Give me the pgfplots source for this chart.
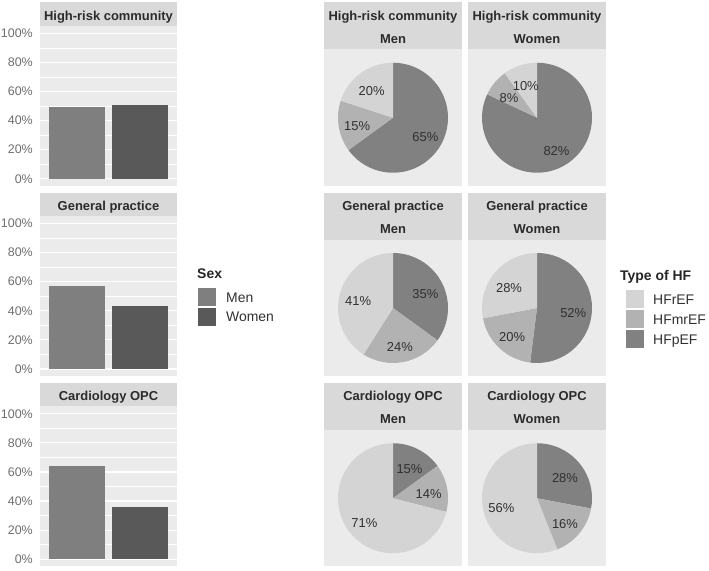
\documentclass[border=0pt]{standalone}
\usepackage{fontspec}
\setmainfont{Liberation Sans}
\usepackage{pgfplots}
\usepackage{pgfplotstable}
\pgfplotsset{compat=1.18}

\definecolor{panelbg}{HTML}{EBEBEB}
\definecolor{stripbg}{HTML}{D9D9D9}
\definecolor{stripfg}{HTML}{2B2B2B}
\definecolor{tickfg}{HTML}{6E6E6E}
\definecolor{menc}{HTML}{7F7F7F}
\definecolor{womenc}{HTML}{595959}
\definecolor{rEF}{HTML}{D4D4D4}
\definecolor{mrEF}{HTML}{B2B2B2}
\definecolor{pEF}{HTML}{818181}
\definecolor{labfg}{HTML}{303030}

% share of men / women per setting (%)
\pgfplotstableread{
sex x pct
Men 1 49
Women 2 51
}\barHR
\pgfplotstableread{
sex x pct
Men 1 57
Women 2 43
}\barGP
\pgfplotstableread{
sex x pct
Men 1 64
Women 2 36
}\barOPC

% type of HF (%), order: HFpEF, HFmrEF, HFrEF
\pgfplotstableread{
type pct
HFpEF 65
HFmrEF 15
HFrEF 20
}\pieHRM
\pgfplotstableread{
type pct
HFpEF 82
HFmrEF 8
HFrEF 10
}\pieHRW
\pgfplotstableread{
type pct
HFpEF 35
HFmrEF 24
HFrEF 41
}\pieGPM
\pgfplotstableread{
type pct
HFpEF 52
HFmrEF 20
HFrEF 28
}\pieGPW
\pgfplotstableread{
type pct
HFpEF 15
HFmrEF 14
HFrEF 71
}\pieOPCM
\pgfplotstableread{
type pct
HFpEF 28
HFmrEF 16
HFrEF 56
}\pieOPCW

\newcommand\getpie[1]{%
 \pgfplotstablegetelem{0}{pct}\of{#1}\edef\pa{\pgfplotsretval}%
 \pgfplotstablegetelem{1}{pct}\of{#1}\edef\pb{\pgfplotsretval}%
 \pgfplotstablegetelem{2}{pct}\of{#1}\edef\pc{\pgfplotsretval}%
 \pgfmathsetmacro\angA{3.6*\pa}%
 \pgfmathsetmacro\angB{3.6*(\pa+\pb)}%
 \pgfmathsetmacro\midA{\angA/2}%
 \pgfmathsetmacro\midB{(\angA+\angB)/2}%
 \pgfmathsetmacro\midC{(\angB+360)/2}%
}
\newcommand\drawpie{%
 \fill[pEF] (axis cs:0,0) -- (axis cs:0,1) arc[start angle=90, end angle={90-\angA}, radius=55bp] -- cycle;
 \fill[mrEF] (axis cs:0,0) -- (axis cs:{sin(\angA)},{cos(\angA)}) arc[start angle={90-\angA}, end angle={90-\angB}, radius=55bp] -- cycle;
 \fill[rEF] (axis cs:0,0) -- (axis cs:{sin(\angB)},{cos(\angB)}) arc[start angle={90-\angB}, end angle=-270, radius=55bp] -- cycle;
 \node[pielab] at (axis cs:{0.66*sin(\midA)},{0.66*cos(\midA)}) {\pa\%};
 \node[pielab] at (axis cs:{0.66*sin(\midB)},{0.66*cos(\midB)}) {\pb\%};
 \node[pielab] at (axis cs:{0.66*sin(\midC)},{0.66*cos(\midC)}) {\pc\%};
}

\newcommand\fsz{\fontsize{13}{15}\selectfont}
\newcommand\lsz{\fontsize{14}{16}\selectfont}

\pgfplotsset{
  barpanel/.style={
    scale only axis, width=137bp, height=160bp,
    anchor=north west,
    xmin=0.4, xmax=2.6, ymin=-5, ymax=105,
    axis background/.style={fill=panelbg},
    axis line style={draw=none},
    xtick=\empty,
    ytick={0,20,...,100}, minor ytick={10,30,...,90},
    ymajorgrids, yminorgrids,
    major grid style={white, line width=1.2bp},
    minor grid style={white, line width=0.6bp},
    major tick length=0pt, minor tick length=0pt,
    yticklabel={\pgfmathprintnumber{\tick}\%},
    /pgf/number format/assume math mode=true,
    yticklabel style={font=\fontsize{12.5}{14}\selectfont, text=tickfg, inner sep=0pt, xshift=-7bp},
    ybar, bar width=0.9,
  },
  piepanel/.style={
    scale only axis, width=138bp, height=136.5bp,
    anchor=north west,
    xmin=-1.254545, xmax=1.254545, ymin=-1.240909, ymax=1.240909,
    axis background/.style={fill=panelbg},
    axis line style={draw=none},
    xtick=\empty, ytick=\empty, clip=false,
  },
}
\tikzset{
  pielab/.style={font=\fsz, text=labfg, inner sep=0pt, yshift=-3bp},
  striptxt/.style={font=\fsz\bfseries, text=stripfg, anchor=base, inner sep=0pt},
  legtxt/.style={font=\lsz, text=labfg, anchor=base west, inner sep=0pt},
  legtitle/.style={font=\lsz\bfseries, text=black!85, anchor=base west, inner sep=0pt},
}

\begin{document}
\begin{tikzpicture}[x=1bp,y=1bp]
\path[use as bounding box] (0,0) rectangle (709,571);

% ---------------- bar panels ----------------
\fill[stripbg] (40,568.5) rectangle (177,545);
\node[striptxt] at (108.5,550.5) {High-risk community};
\begin{axis}[barpanel, at={(40bp,545bp)}]
\addplot[fill=menc, draw=none, bar shift=0pt] table[x=x, y=pct, skip coords between index={1}{2}] {\barHR};
\addplot[fill=womenc, draw=none, bar shift=0pt] table[x=x, y=pct, skip coords between index={0}{1}] {\barHR};
\end{axis}

\fill[stripbg] (40,378.25) rectangle (177,354.75);
\node[striptxt] at (108.5,360.25) {General practice};
\begin{axis}[barpanel, at={(40bp,354.75bp)}]
\addplot[fill=menc, draw=none, bar shift=0pt] table[x=x, y=pct, skip coords between index={1}{2}] {\barGP};
\addplot[fill=womenc, draw=none, bar shift=0pt] table[x=x, y=pct, skip coords between index={0}{1}] {\barGP};
\end{axis}

\fill[stripbg] (40,188) rectangle (177,164.5);
\node[striptxt] at (108.5,170) {Cardiology OPC};
\begin{axis}[barpanel, at={(40bp,164.5bp)}]
\addplot[fill=menc, draw=none, bar shift=0pt] table[x=x, y=pct, skip coords between index={1}{2}] {\barOPC};
\addplot[fill=womenc, draw=none, bar shift=0pt] table[x=x, y=pct, skip coords between index={0}{1}] {\barOPC};
\end{axis}

% Sex legend
\node[legtitle] at (197,292) {Sex};
\fill[menc] (198,282.5) rectangle (216,264.5);
\fill[womenc] (198,263) rectangle (216,245);
\node[legtxt] at (226,268.5) {Men};
\node[legtxt] at (226,249) {Women};

% ---------------- pie panels ----------------
% row 1
\fill[stripbg] (324,568.5) rectangle (462,521.5);
\node[striptxt] at (393,550.5) {High-risk community};
\node[striptxt] at (393,527.5) {Men};
\getpie{\pieHRM}
\begin{axis}[piepanel, at={(324bp,521.5bp)}]
\drawpie
\end{axis}

\fill[stripbg] (468,568.5) rectangle (606,521.5);
\node[striptxt] at (537,550.5) {High-risk community};
\node[striptxt] at (537,527.5) {Women};
\getpie{\pieHRW}
\begin{axis}[piepanel, at={(468bp,521.5bp)}]
\drawpie
\end{axis}

% row 2
\fill[stripbg] (324,378.25) rectangle (462,331.25);
\node[striptxt] at (393,360.25) {General practice};
\node[striptxt] at (393,337.25) {Men};
\getpie{\pieGPM}
\begin{axis}[piepanel, at={(324bp,331.25bp)}]
\drawpie
\end{axis}

\fill[stripbg] (468,378.25) rectangle (606,331.25);
\node[striptxt] at (537,360.25) {General practice};
\node[striptxt] at (537,337.25) {Women};
\getpie{\pieGPW}
\begin{axis}[piepanel, at={(468bp,331.25bp)}]
\drawpie
\end{axis}

% row 3
\fill[stripbg] (324,188) rectangle (462,141);
\node[striptxt] at (393,170) {Cardiology OPC};
\node[striptxt] at (393,147) {Men};
\getpie{\pieOPCM}
\begin{axis}[piepanel, at={(324bp,141bp)}]
\drawpie
\end{axis}

\fill[stripbg] (468,188) rectangle (606,141);
\node[striptxt] at (537,170) {Cardiology OPC};
\node[striptxt] at (537,147) {Women};
\getpie{\pieOPCW}
\begin{axis}[piepanel, at={(468bp,141bp)}]
\drawpie
\end{axis}

% Type of HF legend
\node[legtitle] at (620,290) {Type of HF};
\fill[rEF] (626,280.5) rectangle (644,262.5);
\fill[mrEF] (626,260.5) rectangle (644,242.5);
\fill[pEF] (626,240.5) rectangle (644,222.5);
\node[legtxt] at (653,266.5) {HFrEF};
\node[legtxt] at (653,246.5) {HFmrEF};
\node[legtxt] at (653,226.5) {HFpEF};
\end{tikzpicture}
\end{document}
